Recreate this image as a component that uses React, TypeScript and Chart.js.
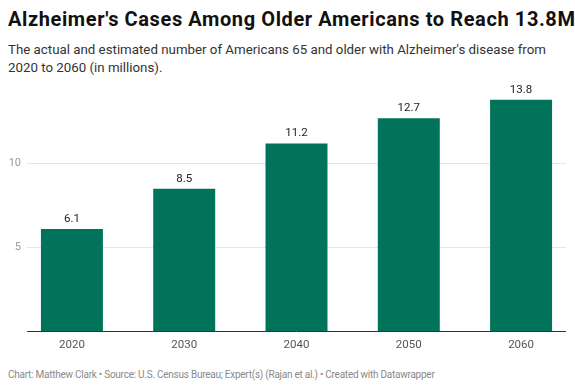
import React, { useEffect, useRef } from "react";
import { Chart, registerables } from "chart.js";

Chart.register(...registerables);

const categories = ["2020", "2030", "2040", "2050", "2060"];
const cases = [6.1, 8.5, 11.2, 12.7, 13.8];
const yTicks = [0, 5, 10];

const FONT = "Roboto, 'Noto Sans', sans-serif";

const valueLabels = {
  id: "valueLabels",
  afterDatasetsDraw(chart: any) {
    const ctx = chart.ctx;
    const meta = chart.getDatasetMeta(0);
    ctx.save();
    ctx.font = `11.5px ${FONT}`;
    ctx.fillStyle = "#222222";
    ctx.textAlign = "center";
    ctx.textBaseline = "alphabetic";
    meta.data.forEach((bar: any, i: number) => {
      ctx.fillText(cases[i].toFixed(1), bar.x, bar.y - 7);
    });
    ctx.restore();
  },
};

export default function App() {
  const ref = useRef<HTMLCanvasElement | null>(null);
  useEffect(() => {
    if (!ref.current) return;
    const chart = new Chart(ref.current, {
      type: "bar",
      data: {
        datasets: [
          {
            data: cases.map((v, i) => ({ x: i, y: v })),
            backgroundColor: "#01735a",
            borderWidth: 0,
            barPercentage: 0.552,
            categoryPercentage: 1,
          },
        ],
      },
      options: {
        animation: false,
        responsive: false,
        maintainAspectRatio: false,
        layout: { padding: { top: 0, right: 9, bottom: 0, left: 0 } },
        plugins: { legend: { display: false }, tooltip: { enabled: false } },
        scales: {
          x: {
            type: "linear",
            offset: false,
            min: -0.4,
            max: 4.4,
            grid: { display: false, drawTicks: false, offset: false },
            border: { display: false },
            afterBuildTicks: (scale: any) => {
              scale.ticks = categories.map((_, i) => ({ value: i }));
            },
            afterFit: (scale: any) => {
              scale.height = 32.5;
            },
            ticks: {
              padding: 7,
              autoSkip: false,
              maxRotation: 0,
              color: "#555555",
              font: { family: FONT, size: 11.5 },
              callback: (v: any) => categories[Math.round(Number(v))] ?? "",
            },
          },
          y: {
            min: 0,
            max: 15,
            afterBuildTicks: (scale: any) => {
              scale.ticks = yTicks.map((v) => ({ value: v }));
            },
            afterFit: (scale: any) => {
              scale.width = 27;
            },
            border: { display: false },
            grid: {
              drawTicks: false,
              color: (c: any) => (c.tick && c.tick.value === 0 ? "#333333" : "#e6e6e6"),
              lineWidth: 1,
            },
            ticks: {
              padding: 6,
              color: "#9a9a9a",
              font: { family: FONT, size: 11 },
              callback: (v: any) => (Number(v) === 0 ? "" : String(v)),
            },
          },
        },
      },
      plugins: [valueLabels],
    });
    return () => chart.destroy();
  }, []);

  return (
    <div style={{ position: "absolute", left: 0, top: 0, width: 575, height: 390, background: "#fff", fontFamily: FONT }}>
      <div style={{ position: "absolute", left: 8, top: 7, fontSize: 20, letterSpacing: 0.6, lineHeight: "24px", fontWeight: 700, color: "#111", whiteSpace: "nowrap" }}>
        Alzheimer's Cases Among Older Americans to Reach 13.8M
      </div>
      <div style={{ position: "absolute", left: 8, top: 41, width: 560, fontSize: 13.3, lineHeight: "17.5px", color: "#333" }}>
        The actual and estimated number of Americans 65 and older with Alzheimer's disease from 2020 to 2060 (in millions).
      </div>
      <canvas ref={ref} width={575} height={297} style={{ position: "absolute", left: 0, top: 67, width: 575, height: 297 }} />
      <div style={{ position: "absolute", left: 8, top: 368, fontSize: 10, letterSpacing: -0.25, lineHeight: "14px", color: "#8a8a8a", whiteSpace: "nowrap" }}>
        Chart: Matthew Clark • Source: U.S. Census Bureau; Expert(s) (Rajan et al.) • Created with Datawrapper
      </div>
    </div>
  );
}
